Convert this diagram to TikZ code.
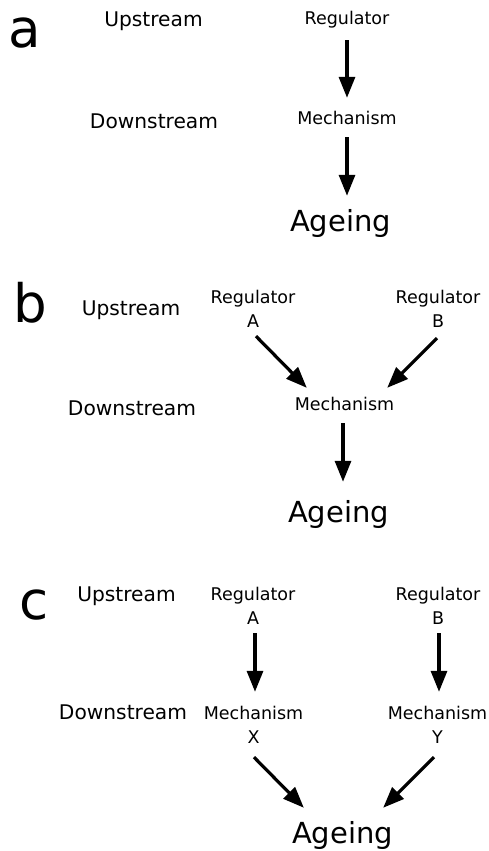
\documentclass[tikz,border=0pt]{standalone}
\usepackage{fontspec}
\setmainfont{DejaVu Sans}
\usetikzlibrary{arrows.meta,calc}
\begin{document}
\begin{tikzpicture}[x=1pt,y=-1pt,
  txt/.style={inner sep=0pt,anchor=base,align=center},
  paneltag/.style={txt,font=\fontsize{53}{60}\selectfont},
  levtext/.style={txt,font=\fontsize{20.2}{24}\selectfont},
  itemtext/.style={txt,font=\fontsize{17.5}{24.5}\selectfont},
  agetext/.style={txt,font=\fontsize{29}{34}\selectfont},
  arr/.style={line width=3.2pt,-{Triangle[length=21pt,width=16pt]}}]
\useasboundingbox[fill=white] (0,0) rectangle (489,851);

% ---------- panel a ----------
\node[paneltag] (la) at (25,48) {a};
\node[levtext] (upa) at (153.5,27) {Upstream};
\node[levtext] (dna) at (154,128) {Downstream};
\node[itemtext] (rega) at (347,25) {Regulator};
\node[itemtext] (mecha) at (347,124) {Mechanism};
\node[agetext] (agea) at (340.5,231) {Ageing};
\draw[arr] ($(rega.south)+(0,11.4)$) -- ($(mecha.north)+(0,-12.7)$);
\draw[arr] ($(mecha.south)+(0,13)$) -- ($(mecha.south |- agea.north)+(0,-13)$);

% ---------- panel b ----------
\node[paneltag] (lb) at (30,322) {b};
\node[levtext] (upb) at (131,315) {Upstream};
\node[levtext] (dnb) at (132,415) {Downstream};
\node[itemtext] (rbA) at (253,327.5) {Regulator\\A};
\node[itemtext] (rbB) at (438,327.5) {Regulator\\B};
\node[itemtext] (mechb) at (344.5,410) {Mechanism};
\node[agetext] (ageb) at (338.5,522) {Ageing};
\draw[arr] ($(rbA.south)+(3,8.5)$) -- ($(mechb.north west)+(12.2,-8.7)$);
\draw[arr] ($(rbB.south)+(-1,10.5)$) -- ($(mechb.north east)+(-7.2,-8.7)$);
\draw[arr] ($(mechb.south)+(-1.5,13)$) -- ($(mechb.south |- ageb.north)+(-1.5,-18)$);

% ---------- panel c ----------
\node[paneltag] (lc) at (34,619) {c};
\node[levtext] (upc) at (126.5,601) {Upstream};
\node[levtext] (dnc) at (123,719) {Downstream};
\node[itemtext] (rcA) at (253,624.5) {Regulator\\A};
\node[itemtext] (rcB) at (438,624.5) {Regulator\\B};
\node[itemtext] (mcX) at (253.5,743.5) {Mechanism\\X};
\node[itemtext] (mcY) at (437.5,743.5) {Mechanism\\Y};
\node[agetext] (agec) at (342.5,843) {Ageing};
\draw[arr] ($(rcA.south)+(2,8.5)$) -- ($(rcA.south |- mcX.north)+(2,-13.7)$);
\draw[arr] ($(rcB.south)+(1,8.5)$) -- ($(rcB.south |- mcY.north)+(1,-13.7)$);
\draw[arr] ($(mcX.south)+(0.5,13.5)$) -- ($(agec.north west)+(12,-13)$);
\draw[arr] ($(mcY.south)+(-3.5,13.5)$) -- ($(agec.north east)+(-10,-13)$);
\end{tikzpicture}
\end{document}
